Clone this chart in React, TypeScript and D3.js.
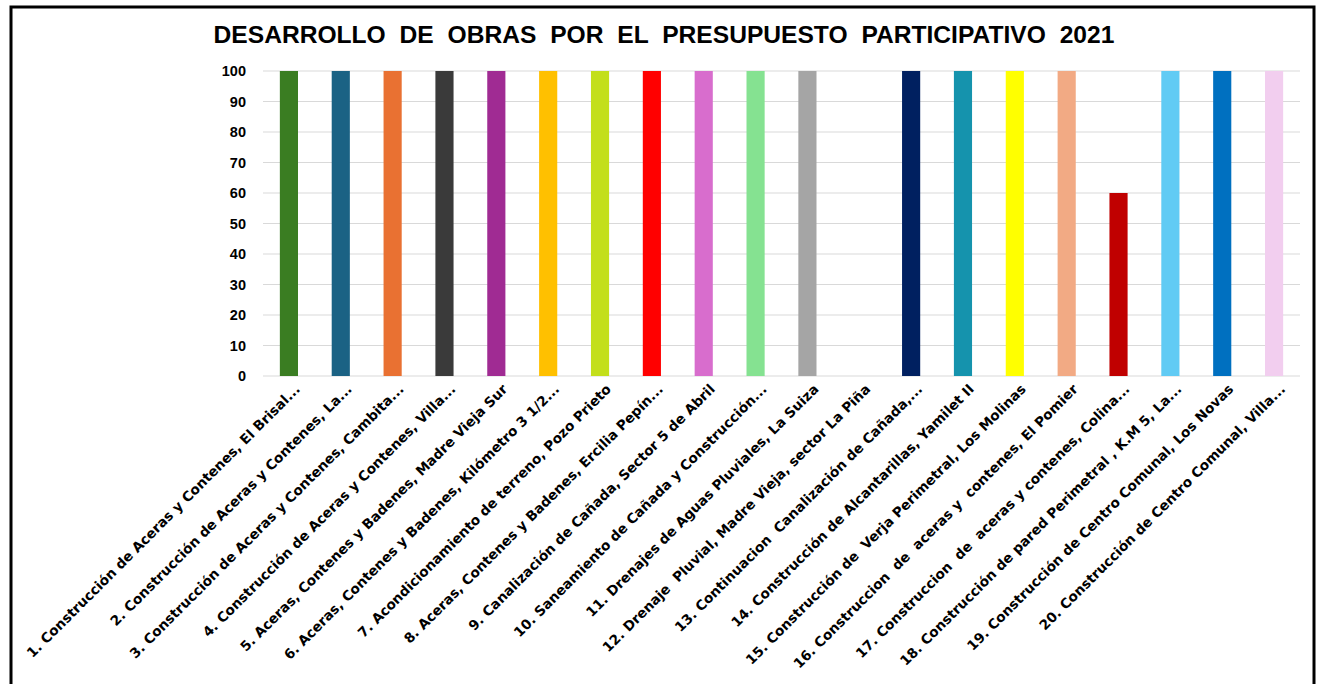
import React from "react";
import * as d3 from "d3";

const categories = [
  "1. Construcción de Aceras y Contenes, El Brisal...",
  "2. Construcción de Aceras y Contenes, La...",
  "3. Construcción de Aceras y Contenes, Cambita...",
  "4. Construcción de Aceras y Contenes, Villa...",
  "5. Aceras, Contenes y Badenes, Madre Vieja Sur",
  "6. Aceras, Contenes y Badenes, Kilómetro 3 1/2...",
  "7. Acondicionamiento de terreno, Pozo Prieto",
  "8. Aceras, Contenes y Badenes, Ercilia Pepín...",
  "9. Canalización de Cañada, Sector 5 de Abril",
  "10. Saneamiento de Cañada y Construcción...",
  "11. Drenajes de Aguas Pluviales, La Suiza",
  "12. Drenaje  Pluvial, Madre Vieja, sector La Piña",
  "13. Continuacion  Canalización de Cañada,...",
  "14. Construcción de Alcantarillas, Yamilet II",
  "15. Construcción de  Verja Perimetral, Los Molinas",
  "16. Construccion  de  aceras y  contenes, El Pomier",
  "17. Construccion  de  aceras y contenes, Colina...",
  "18. Construcción de pared Perimetral , K.M 5, La...",
  "19. Construcción de Centro Comunal, Los Novas",
  "20. Construcción de Centro Comunal, Villa...",
];

const values = [100, 100, 100, 100, 100, 100, 100, 100, 100, 100, 100, 0, 100, 100, 100, 100, 60, 100, 100, 100];

const colors = [
  "#3a7d22", "#1b6284", "#e97132", "#3a3a3a", "#a02b93",
  "#ffc000", "#c3df1b", "#ff0000", "#d86dcd", "#85e291",
  "#a5a5a5", "#7f7f7f", "#002060", "#1593ad", "#ffff00",
  "#f2aa84", "#c00000", "#61cbf4", "#0070c0", "#f2ceef",
];

const yTicks = [0, 10, 20, 30, 40, 50, 60, 70, 80, 90, 100];

const title = "DESARROLLO DE OBRAS POR EL PRESUPUESTO PARTICIPATIVO 2021";

const W = 1319;
const H = 684;
const plot = { left: 263, right: 1300, top: 71, bottom: 376 };

export default function App() {
  const x = d3
    .scaleBand<string>()
    .domain(categories)
    .range([plot.left, plot.right])
    .paddingInner(0.65)
    .paddingOuter(0.325);
  const y = d3.scaleLinear().domain([0, 100]).range([plot.bottom, plot.top]);

  const font = "'Liberation Sans', Arial, sans-serif";
  const labelFont = "'DejaVu Sans', sans-serif";

  return (
    <div style={{ position: "absolute", left: 0, top: 0 }}>
      <svg width={W} height={H} style={{ display: "block", background: "#fff" }}>
        <rect x={11} y={7} width={1303} height={700} fill="#fff" stroke="#000" strokeWidth={3} />
        <text
          x={664}
          y={43}
          textAnchor="middle"
          fontFamily={font}
          fontWeight="bold"
          fontSize={24.6}
          wordSpacing={7}
          style={{ whiteSpace: "pre" }}
          fill="#000"
        >
          {title}
        </text>

        {/* gridlines */}
        {yTicks.map((t) => (
          <line
            key={t}
            x1={plot.left}
            x2={plot.right}
            y1={y(t)}
            y2={y(t)}
            stroke="#d9d9d9"
            strokeWidth={1.2}
          />
        ))}
        {yTicks.map((t) => (
          <text
            key={"l" + t}
            x={246}
            y={y(t)}
            dy="0.35em"
            textAnchor="end"
            fontFamily={font}
            fontWeight="bold"
            fontSize={14.5}
            fill="#000"
          >
            {t}
          </text>
        ))}

        {/* bars */}
        {categories.map((c, i) =>
          values[i] > 0 ? (
            <rect
              key={c}
              x={x(c)}
              y={y(values[i])}
              width={x.bandwidth()}
              height={y(0) - y(values[i])}
              fill={colors[i]}
            />
          ) : null
        )}

        {/* category labels */}
        {categories.map((c) => {
          const cx = (x(c) ?? 0) + x.bandwidth() / 2 + 12;
          const cy = plot.bottom + 14;
          return (
            <text
              key={"t" + c}
              transform={`translate(${cx},${cy}) rotate(-45)`}
              textAnchor="end"
              fontFamily={labelFont}
              fontWeight="bold"
              fontSize={13.7}
              style={{ whiteSpace: "pre" }}
              fill="#000"
            >
              {c}
            </text>
          );
        })}
      </svg>
    </div>
  );
}
